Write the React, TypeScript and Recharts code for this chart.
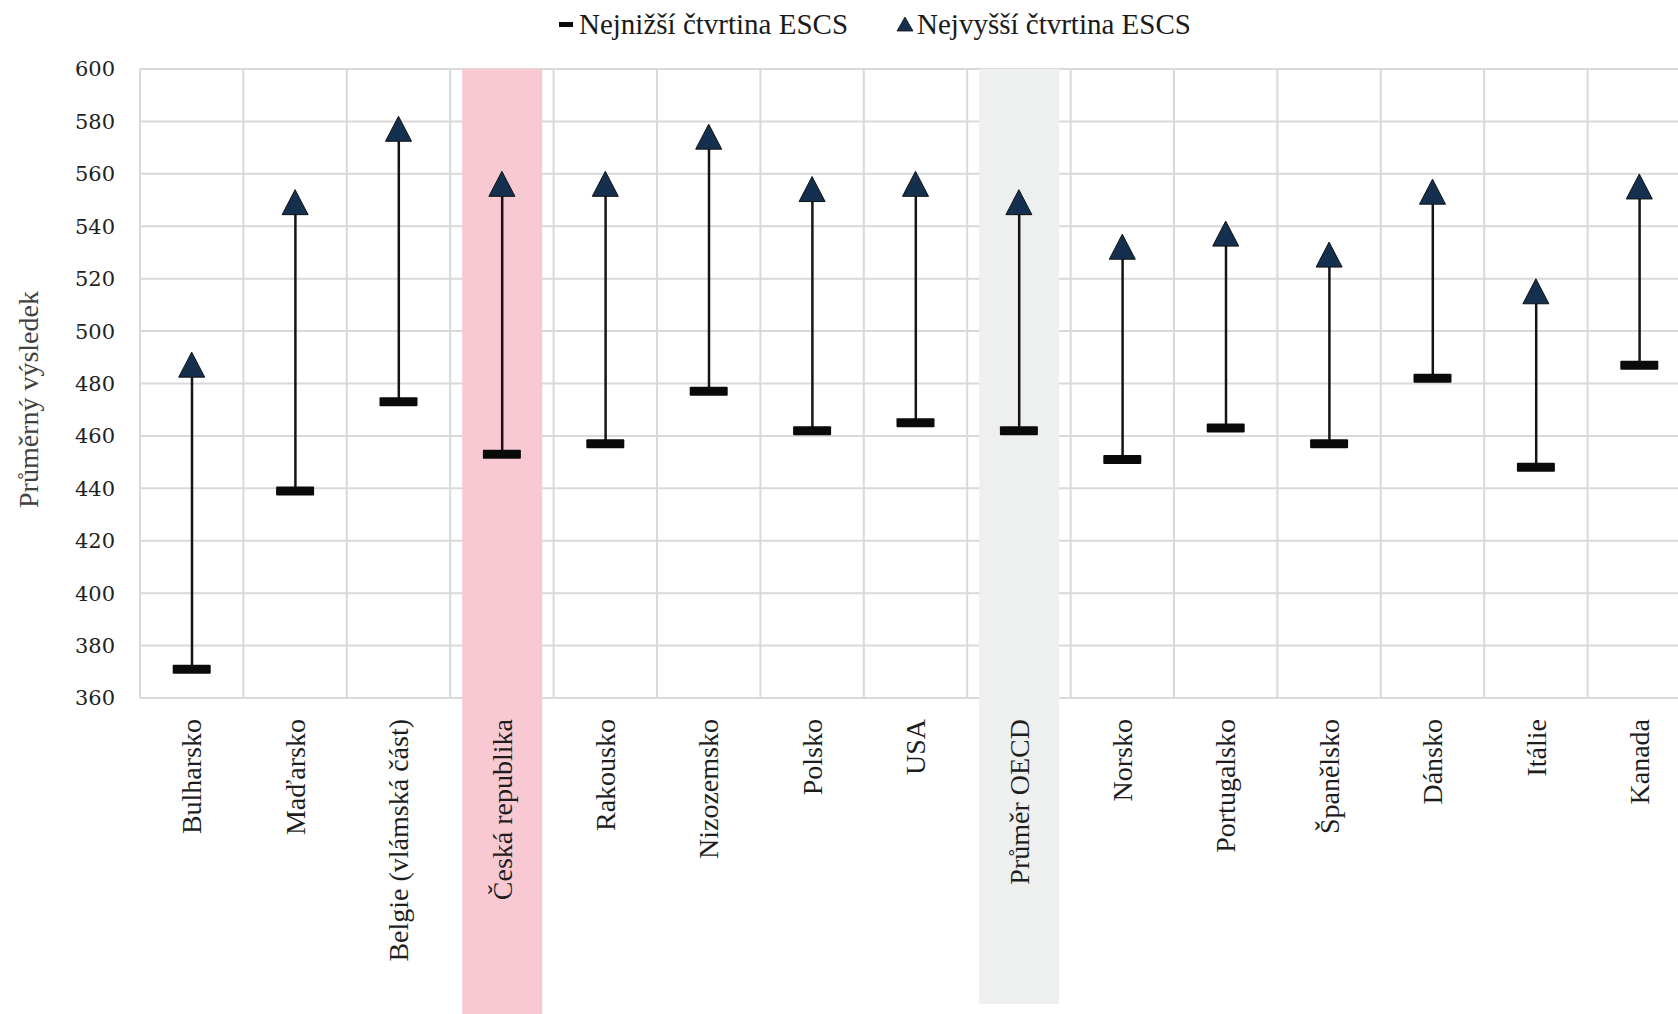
import React from 'react';
import { ComposedChart, Bar, Line, XAxis, YAxis, CartesianGrid, Cell } from 'recharts';

const categories = [
  'Bulharsko', 'Maďarsko', 'Belgie (vlámská část)', 'Česká republika', 'Rakousko',
  'Nizozemsko', 'Polsko', 'USA', 'Průměr OECD', 'Norsko',
  'Portugalsko', 'Španělsko', 'Dánsko', 'Itálie', 'Kanada',
];
const lowestQuarter = [371, 439, 473, 453, 457, 477, 462, 465, 462, 451, 463, 457, 482, 448, 487];
const highestQuarter = [487, 549, 577, 556, 556, 574, 554, 556, 549, 532, 537, 529, 553, 515, 555];
const yTicks = [360, 380, 400, 420, 440, 460, 480, 500, 520, 540, 560, 580, 600];
const highlighted: Record<string, string> = {
  'Česká republika': '#f8c9d2',
  'Průměr OECD': '#eef0ef',
};

const serif = '"Liberation Serif", "Times New Roman", serif';
const TOP = 600;

const data = categories.map((name, i) => ({
  name,
  low: lowestQuarter[i],
  high: highestQuarter[i],
  range: [lowestQuarter[i], highestQuarter[i]],
  band: highlighted[name] ? TOP : null,
}));

// vertical grid lines sit on the column boundaries, not the category centres
const columnEdges = ({ xAxis, offset }: any) => {
  const n = categories.length;
  const fallback = () => {
    const step = offset.width / n;
    return categories.map((_, i) => offset.left + i * step).concat(offset.left + offset.width);
  };
  try {
    const scale = xAxis && xAxis.scale;
    if (!scale) return fallback();
    const at = (c: string) =>
      typeof scale === 'function' ? scale(c) : typeof scale.map === 'function' ? scale.map(c) : undefined;
    const bw = typeof scale.bandwidth === 'function' ? scale.bandwidth() : offset.width / n;
    const starts = categories.map(at);
    if (starts.some((s) => typeof s !== 'number' || isNaN(s))) return fallback();
    return starts.concat(starts[n - 1] + bw);
  } catch (e) {
    return fallback();
  }
};

const BandShape = (p: any) => {
  if (p.height == null || !p.width) return null;
  const bottom = p.fill === '#f8c9d2' ? 1020 : 1004;
  return <rect x={p.x} y={p.y} width={p.width} height={bottom - p.y} fill={p.fill} />;
};

const RangeLine = (p: any) => {
  if (p.height == null) return null;
  const cx = p.x + p.width / 2;
  const y1 = Math.min(p.y, p.y + p.height);
  const y2 = Math.max(p.y, p.y + p.height);
  return <line x1={cx} x2={cx} y1={y1} y2={y2} stroke="#141414" strokeWidth={2.5} />;
};

const LowDot = (p: any) => {
  if (p.cx == null || p.cy == null) return null;
  return <rect x={p.cx - 19} y={p.cy - 4.5} width={38} height={9} fill="#0a0a0a" rx={1} />;
};

const HighDot = (p: any) => {
  if (p.cx == null || p.cy == null) return null;
  const { cx, cy } = p;
  return (
    <path
      d={`M${cx},${cy - 13} L${cx + 13},${cy + 12} L${cx - 13},${cy + 12} Z`}
      fill="#15304f"
      stroke="#111"
      strokeWidth={1}
    />
  );
};

const CategoryTick = ({ x, y, payload }: any) => (
  <text
    x={x}
    y={y}
    transform={`rotate(-90, ${x}, ${y})`}
    textAnchor="end"
    dy="0.35em"
    fontFamily={serif}
    fontSize={28}
    fill="#1e1e1e"
  >
    {payload.value}
  </text>
);

const YTitle = ({ viewBox }: any) => {
  const x = viewBox.x + 28;
  const y = viewBox.y + viewBox.height / 2 + 16;
  return (
    <text x={x} y={y} transform={`rotate(-90, ${x}, ${y})`} textAnchor="middle" dy="0.35em"
      fontFamily={serif} fontSize={28} fill="#404040">
      Průměrný výsledek
    </text>
  );
};

export default function App() {
  return (
    <div style={{ position: 'absolute', left: 0, top: 0, width: 1678, height: 1014, overflow: 'hidden', background: '#fff' }}>
      <div style={{ position: 'absolute', top: 10, left: 558, display: 'flex', alignItems: 'center', fontFamily: serif, fontSize: 29, lineHeight: '28px', color: '#1a1a1a', whiteSpace: 'nowrap' }}>
        <svg width={16} height={10} style={{ marginRight: 5 }}><rect x={1} y={3} width={14} height={5} fill="#0a0a0a" /></svg>
        <span>Nejnižší čtvrtina ESCS</span>
        <svg width={20} height={16} style={{ marginLeft: 47, marginRight: 2 }}><path d="M10,1 L18,15 L2,15 Z" fill="#15304f" stroke="#111" strokeWidth={0.8} /></svg>
        <span>Nejvyšší čtvrtina ESCS</span>
      </div>
      <ComposedChart width={1700} height={1014} data={data} margin={{ top: 69, right: 9, bottom: 0, left: 0 }}>
        <XAxis dataKey="name" xAxisId="band" hide />
        <XAxis dataKey="name" interval={0} height={316} axisLine={false} tickLine={false} tickSize={0} tickMargin={21} tick={<CategoryTick />} />
        <YAxis
          type="number"
          domain={[360, 600]}
          ticks={yTicks}
          interval={0}
          width={140}
          axisLine={false}
          tickLine={false}
          tickSize={0}
          tickMargin={25}
          tick={{ fontFamily: '"DejaVu Serif", serif', fontSize: 21, fill: '#222' }}
          label={<YTitle />}
        />
        <Bar dataKey="band" xAxisId="band" barSize={80} isAnimationActive={false} shape={<BandShape />} legendType="none">
          {data.map((d) => (
            <Cell key={d.name} fill={highlighted[d.name] || 'none'} />
          ))}
        </Bar>
        <CartesianGrid stroke="#d9d9d9" strokeWidth={2} verticalCoordinatesGenerator={columnEdges} />
        <Bar dataKey="range" barSize={10} isAnimationActive={false} shape={<RangeLine />} legendType="none" />
        <Line dataKey="low" stroke="none" isAnimationActive={false} dot={<LowDot />} activeDot={false} />
        <Line dataKey="high" stroke="none" isAnimationActive={false} dot={<HighDot />} activeDot={false} />
      </ComposedChart>
    </div>
  );
}
